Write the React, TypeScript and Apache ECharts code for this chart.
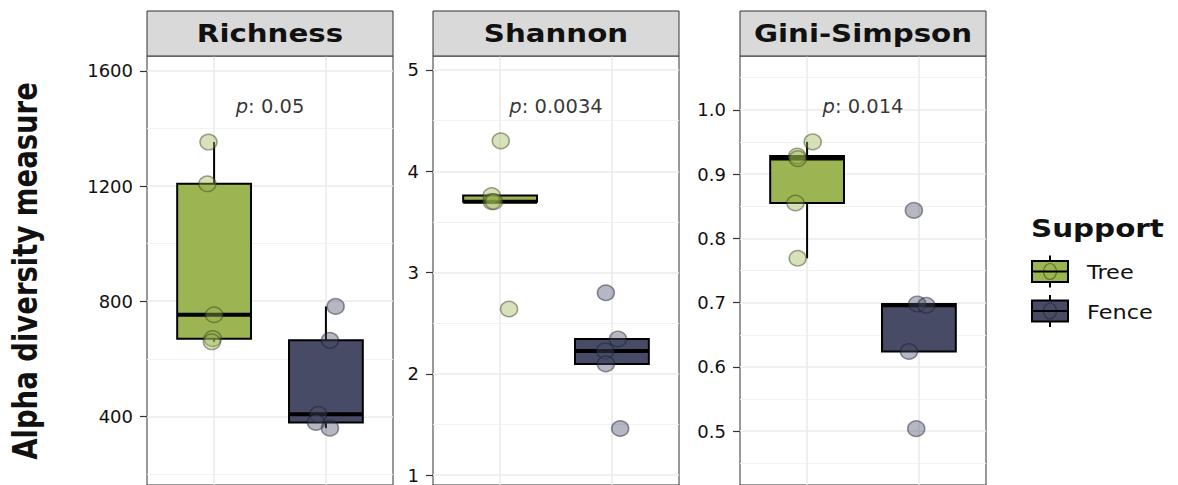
import React, { useEffect, useRef } from 'react';
import * as echarts from 'echarts';

// ---------- data ----------
const panels = ['Richness', 'Shannon', 'Gini-Simpson'];
const groups = ['Tree', 'Fence'];
const groupColors = ['#9cb553', '#474b66'];
const pointFills = ['rgba(156,181,83,0.5)', 'rgba(71,75,102,0.5)'];
const pointBorders = ['rgba(55,65,25,0.6)', 'rgba(30,32,45,0.6)'];

// sample values per panel / group
const richnessTree = [1353, 1208, 753, 670, 659];
const richnessFence = [782, 664, 407, 379, 359];
const shannonTree = [4.3, 3.76, 3.7, 3.7, 2.64];
const shannonFence = [2.8, 2.344, 2.226, 2.098, 1.46];
const giniTree = [0.95, 0.928, 0.924, 0.855, 0.769];
const giniFence = [0.8435, 0.698, 0.696, 0.624, 0.504];

// horizontal jitter of each point (in category units)
const richnessTreeJitter = [-0.05, -0.06, 0.0, -0.012, -0.02];
const richnessFenceJitter = [0.087, 0.036, -0.069, -0.089, 0.036];
const shannonTreeJitter = [0.006, -0.075, -0.075, -0.055, 0.08];
const shannonFenceJitter = [-0.054, 0.054, -0.06, -0.054, 0.074];
const giniTreeJitter = [0.05, -0.089, -0.084, -0.104, -0.084];
const giniFenceJitter = [-0.045, -0.015, 0.066, -0.089, -0.024];

// box statistics: [lower whisker, q1, median, q3, upper whisker]
const richnessTreeBox = [659, 670, 753, 1208, 1353];
const richnessFenceBox = [359, 379, 407, 664, 782];
const shannonTreeBox = [3.7, 3.7, 3.7, 3.76, 3.76];
const shannonFenceBox = [2.098, 2.098, 2.226, 2.344, 2.344];
const giniTreeBox = [0.769, 0.855, 0.924, 0.928, 0.95];
const giniFenceBox = [0.624, 0.624, 0.696, 0.698, 0.698];

// p-value annotations
const pValues = ['0.05', '0.0034', '0.014'];
const pLabelY = [1475, 4.64, 1.005];

// axes
const yMin = [161.5, 0.902, 0.4164];
const yMax = [1652, 5.138, 1.0836];
const majorTicks = [
  [400, 800, 1200, 1600],
  [1, 2, 3, 4, 5],
  [0.5, 0.6, 0.7, 0.8, 0.9, 1.0],
];
const minorTicks = [
  [200, 600, 1000, 1400],
  [1.5, 2.5, 3.5, 4.5],
  [0.45, 0.55, 0.65, 0.75, 0.85, 0.95, 1.05],
];
const labelDecimals = [0, 0, 1];
const yTitle = 'Alpha diversity measure';
const legendTitle = 'Support';

const panelValues = [
  [richnessTree, richnessFence],
  [shannonTree, shannonFence],
  [giniTree, giniFence],
];
const panelJitter = [
  [richnessTreeJitter, richnessFenceJitter],
  [shannonTreeJitter, shannonFenceJitter],
  [giniTreeJitter, giniFenceJitter],
];
const panelBoxes = [
  [richnessTreeBox, richnessFenceBox],
  [shannonTreeBox, shannonFenceBox],
  [giniTreeBox, giniFenceBox],
];

// ---------- layout ----------
const FONT = '"DejaVu Sans", Verdana, sans-serif';
const panelLeft = [147, 433, 740];
const panelWidth = 246;
const panelTop = 56;
const panelHeight = 431;
const stripTop = 11;
const stripHeight = 45;
const BOX_W = 0.66;

function buildOption() {
  const grid: any[] = [];
  const xAxis: any[] = [];
  const yAxis: any[] = [];
  const series: any[] = [];
  const graphic: any[] = [];

  panels.forEach((name, i) => {
    grid.push({
      left: panelLeft[i],
      top: panelTop,
      width: panelWidth,
      height: panelHeight,
      show: true,
      backgroundColor: '#ffffff',
      borderColor: '#333333',
      borderWidth: 1,
      containLabel: false,
    });
    xAxis.push({
      type: 'value',
      gridIndex: i,
      min: 0.4,
      max: 2.6,
      axisLine: { show: false },
      axisTick: { show: false, customValues: [1, 2] },
      axisLabel: { show: false, customValues: [1, 2] },
      splitLine: { show: true, lineStyle: { color: '#ebebeb', width: 1.6 } },
    });
    // major axis with labels
    yAxis.push({
      type: 'value',
      gridIndex: i,
      min: yMin[i],
      max: yMax[i],
      position: 'left',
      axisLine: { show: false },
      axisTick: {
        show: true,
        length: 7,
        customValues: majorTicks[i],
        lineStyle: { color: '#333333', width: 1.2 },
      },
      axisLabel: {
        show: true,
        customValues: majorTicks[i],
        margin: 14,
        fontSize: 18,
        fontFamily: FONT,
        color: '#111111',
        formatter: (v: number) => v.toFixed(labelDecimals[i]),
      },
      splitLine: { show: true, lineStyle: { color: '#ebebeb', width: 1.6 } },
    });
    // minor grid axis
    yAxis.push({
      type: 'value',
      gridIndex: i,
      min: yMin[i],
      max: yMax[i],
      position: 'right',
      axisLine: { show: false },
      axisTick: { show: false, customValues: minorTicks[i] },
      axisLabel: { show: false, customValues: minorTicks[i] },
      splitLine: { show: true, lineStyle: { color: '#f2f2f2', width: 1 } },
    });

    // boxes
    series.push({
      type: 'custom',
      xAxisIndex: i,
      yAxisIndex: 2 * i,
      silent: true,
      dimensions: ['x', 'lo', 'q1', 'med', 'q3', 'hi'],
      encode: { x: 0, y: [1, 2, 3, 4, 5] },
      data: panelBoxes[i].map((b, g) => [g + 1, ...b]),
      renderItem: (params: any, api: any) => {
        const x = api.value(0);
        const lo = api.value(1);
        const q1 = api.value(2);
        const med = api.value(3);
        const q3 = api.value(4);
        const hi = api.value(5);
        const g = Math.round(x) - 1;
        const tl = api.coord([x - BOX_W / 2, q3]);
        const br = api.coord([x + BOX_W / 2, q1]);
        const mL = api.coord([x - BOX_W / 2, med]);
        const mR = api.coord([x + BOX_W / 2, med]);
        const pHi = api.coord([x, hi]);
        const pQ3 = api.coord([x, q3]);
        const pQ1 = api.coord([x, q1]);
        const pLo = api.coord([x, lo]);
        return {
          type: 'group',
          children: [
            {
              type: 'line',
              shape: { x1: pHi[0], y1: pHi[1], x2: pQ3[0], y2: pQ3[1] },
              style: { stroke: '#000', lineWidth: 2 },
            },
            {
              type: 'line',
              shape: { x1: pLo[0], y1: pLo[1], x2: pQ1[0], y2: pQ1[1] },
              style: { stroke: '#000', lineWidth: 2 },
            },
            {
              type: 'rect',
              shape: { x: tl[0], y: tl[1], width: br[0] - tl[0], height: br[1] - tl[1] },
              style: { fill: groupColors[g], stroke: '#000', lineWidth: 2 },
            },
            {
              type: 'line',
              shape: { x1: mL[0], y1: mL[1], x2: mR[0], y2: mR[1] },
              style: { stroke: '#000', lineWidth: 4 },
            },
          ],
        };
      },
    });

    // points
    groups.forEach((gName, g) => {
      series.push({
        type: 'scatter',
        name: gName,
        xAxisIndex: i,
        yAxisIndex: 2 * i,
        symbol: 'circle',
        symbolSize: [17, 15.5],
        silent: true,
        data: panelValues[i][g].map((v, k) => [g + 1 + panelJitter[i][g][k], v]),
        itemStyle: { color: pointFills[g], borderColor: pointBorders[g], borderWidth: 1.5 },
      });
    });

    // p-value label
    series.push({
      type: 'scatter',
      xAxisIndex: i,
      yAxisIndex: 2 * i,
      symbolSize: 0,
      silent: true,
      data: [[1.5, pLabelY[i]]],
      itemStyle: { color: 'transparent' },
      label: {
        show: true,
        position: 'inside',
        formatter: `{i|p}: ${pValues[i]}`,
        fontSize: 19.5,
        fontFamily: FONT,
        color: '#000000',
        rich: {
          i: { fontStyle: 'italic', fontSize: 19.5, fontFamily: FONT, color: '#000000' },
        },
      },
    });

    // strip
    graphic.push({
      type: 'rect',
      shape: { x: panelLeft[i], y: stripTop, width: panelWidth, height: stripHeight },
      style: { fill: '#d9d9d9', stroke: '#333333', lineWidth: 1 },
      z: 10,
    });
    graphic.push({
      type: 'text',
      x: panelLeft[i] + panelWidth / 2,
      y: stripTop + stripHeight / 2,
      scaleX: 1.22,
      style: {
        text: name,
        x: 0,
        y: 0,
        align: 'center',
        textAlign: 'center',
        verticalAlign: 'middle',
        textVerticalAlign: 'middle',
        fontSize: 24,
        fontWeight: 'bold',
        fontFamily: FONT,
        fill: '#111111',
      },
      z: 11,
    });
  });

  // y title
  graphic.push({
    type: 'text',
    x: 26,
    y: 271,
    rotation: Math.PI / 2,
    scaleY: 1.2,
    style: {
      text: yTitle,
      x: 0,
      y: 0,
      align: 'center',
      textAlign: 'center',
      verticalAlign: 'middle',
      textVerticalAlign: 'middle',
      fontSize: 27.5,
      fontWeight: 'bold',
      fontFamily: FONT,
      fill: '#111111',
    },
  });

  // legend
  graphic.push({
    type: 'text',
    x: 1031,
    y: 228,
    scaleX: 1.2,
    style: {
      text: legendTitle,
      x: 0,
      y: 0,
      align: 'left',
      textAlign: 'left',
      verticalAlign: 'middle',
      textVerticalAlign: 'middle',
      fontSize: 24.5,
      fontWeight: 'bold',
      fontFamily: FONT,
      fill: '#111111',
    },
  });
  const keyCy = [271.5, 311];
  groups.forEach((gName, g) => {
    const cy = keyCy[g];
    graphic.push({
      type: 'line',
      shape: { x1: 1050, y1: cy - 16, x2: 1050, y2: cy + 16 },
      style: { stroke: '#000', lineWidth: 2 },
    });
    graphic.push({
      type: 'rect',
      shape: { x: 1032, y: cy - 10.5, width: 36, height: 21 },
      style: { fill: groupColors[g], stroke: '#000', lineWidth: 2 },
    });
    graphic.push({
      type: 'ellipse',
      shape: { cx: 1050, cy, rx: 6.5, ry: 8 },
      style: { fill: pointFills[g], stroke: pointBorders[g], lineWidth: 1.2 },
    });
    graphic.push({
      type: 'line',
      shape: { x1: 1032, y1: cy, x2: 1068, y2: cy },
      style: { stroke: '#000', lineWidth: 2 },
    });
    graphic.push({
      type: 'text',
      x: 1087,
      y: cy + 1,
      scaleX: 1.15,
      style: {
        text: gName,
        x: 0,
        y: 0,
        align: 'left',
        textAlign: 'left',
        verticalAlign: 'middle',
        textVerticalAlign: 'middle',
        fontSize: 19.5,
        fontFamily: FONT,
        fill: '#111111',
      },
    });
  });

  return {
    animation: false,
    backgroundColor: '#ffffff',
    grid,
    xAxis,
    yAxis,
    series,
    graphic,
  };
}

export default function App() {
  const ref = useRef<HTMLDivElement>(null);
  useEffect(() => {
    if (!ref.current) return;
    const chart = echarts.init(ref.current, null, { renderer: 'svg' });
    chart.setOption(buildOption() as any);
    return () => chart.dispose();
  }, []);
  return (
    <div
      ref={ref}
      style={{ position: 'absolute', left: 0, top: 0, width: 1178, height: 485 }}
    />
  );
}
